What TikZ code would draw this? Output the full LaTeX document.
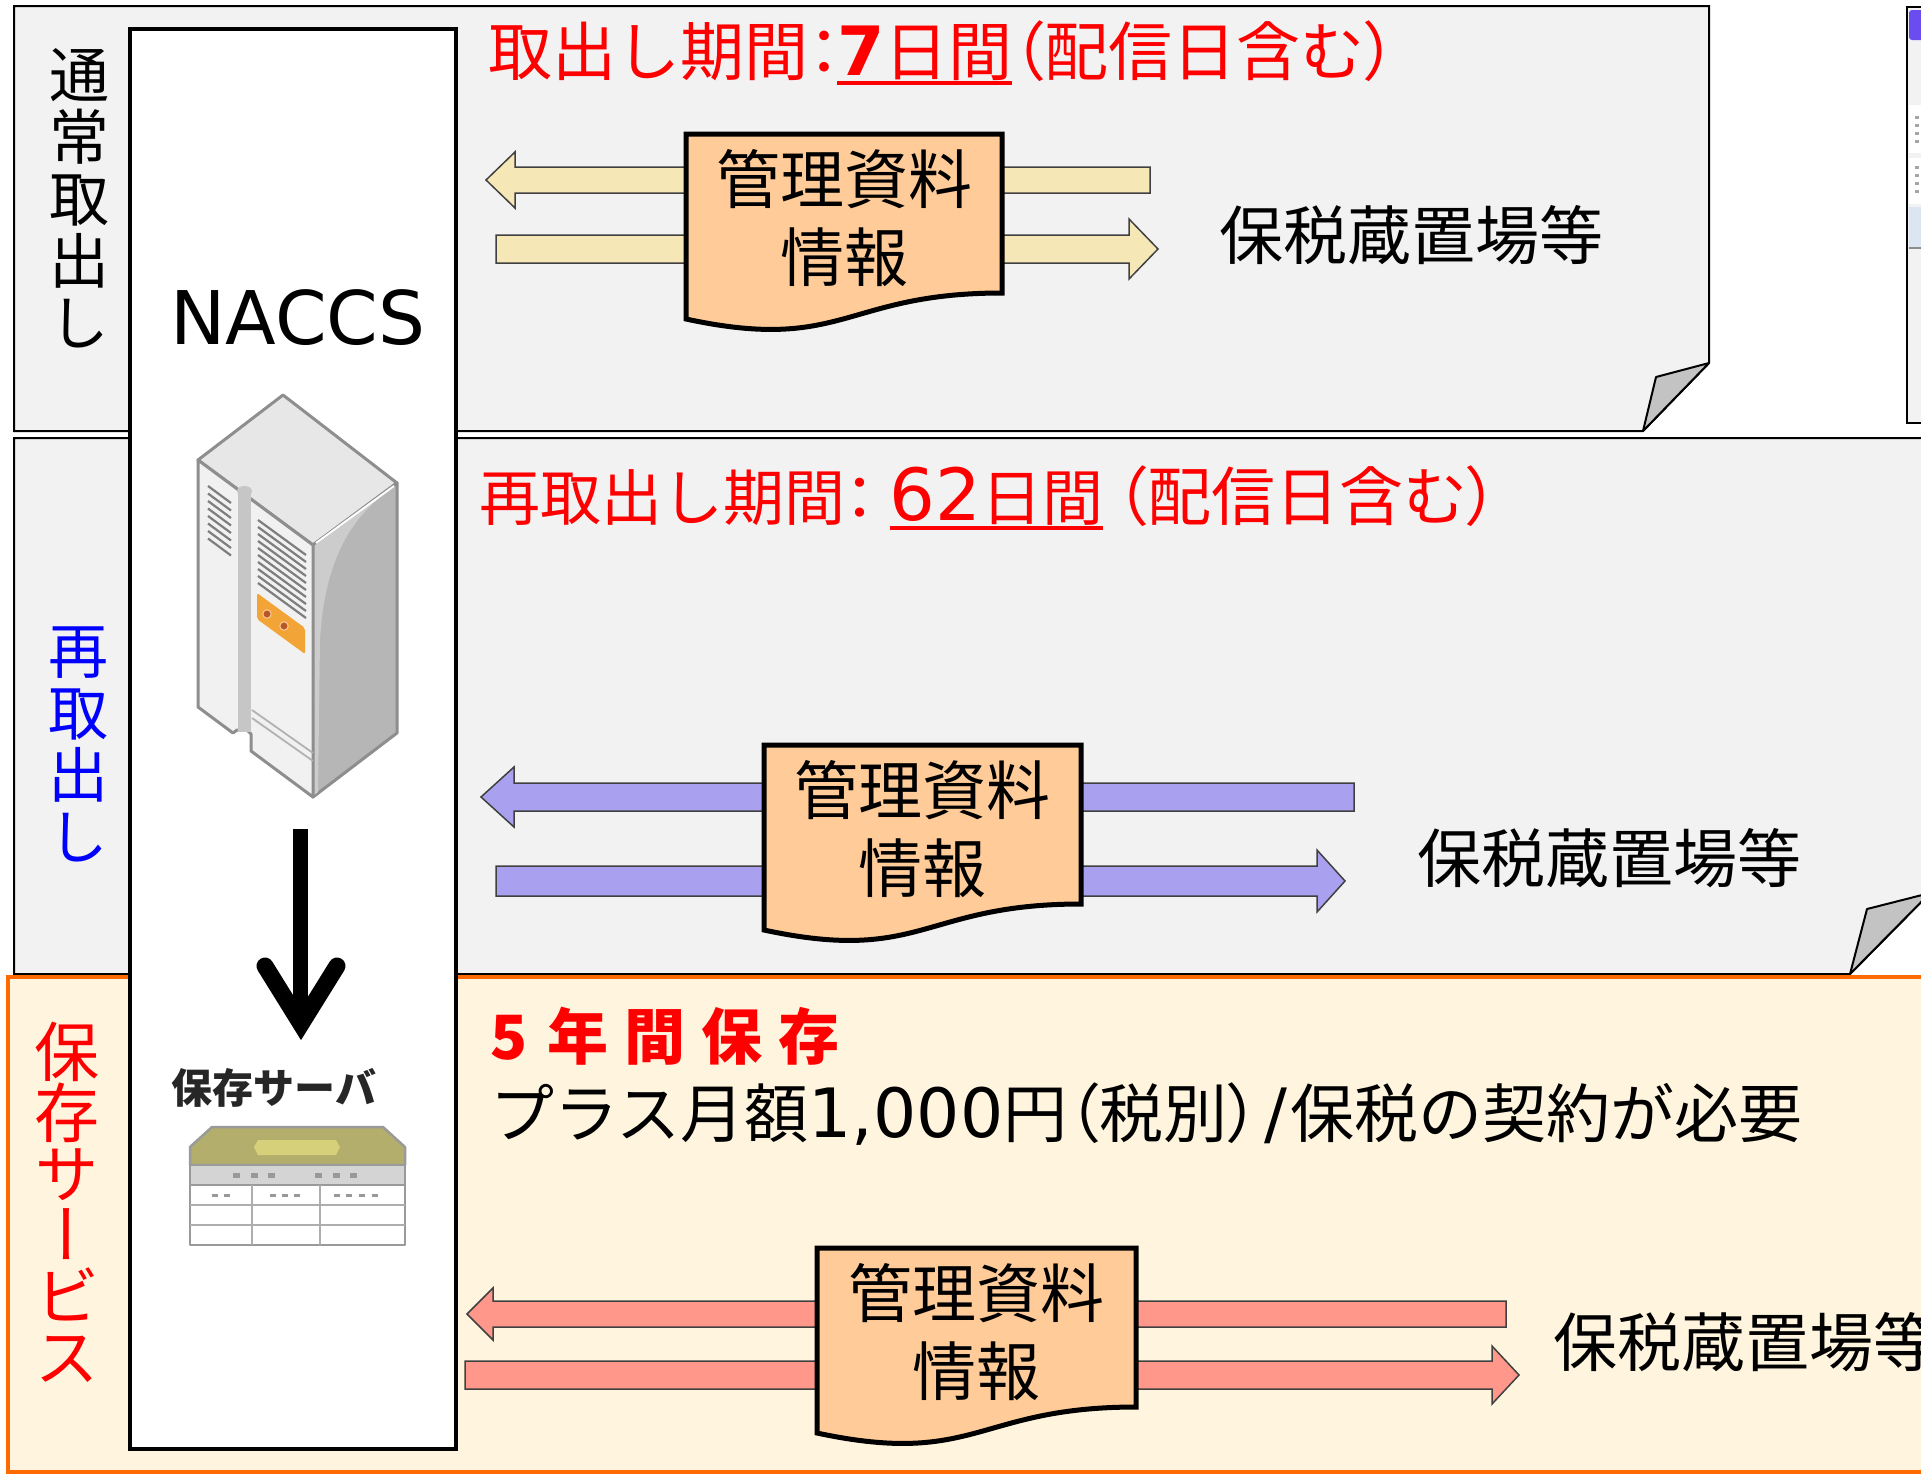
\documentclass[tikz,border=0pt]{standalone}
\usepackage{fontspec}
\usepackage{graphicx}
\setmainfont{Noto Sans CJK JP}
\newfontfamily\vjp[RawFeature=+vert]{Noto Sans CJK JP}
\newfontfamily\jppalt[RawFeature=+palt]{Noto Sans CJK JP}
\newfontfamily\latinf{DejaVu Sans}
\usetikzlibrary{calc}

\definecolor{panelgray}{HTML}{F2F2F2}
\definecolor{flapgray}{HTML}{C3C3C3}
\definecolor{creamfill}{HTML}{FFF5DF}
\definecolor{orangeline}{HTML}{FF6A00}
\definecolor{peach}{HTML}{FFCC99}
\definecolor{yellowbar}{HTML}{F6E8B6}
\definecolor{violetbar}{HTML}{A9A1EF}
\definecolor{salmonbar}{HTML}{FF978B}
\definecolor{towerline}{HTML}{8E8E8E}
\definecolor{towertop}{HTML}{E7E7E7}
\definecolor{towerfront}{HTML}{F1F1F1}
\definecolor{towerside}{HTML}{B6B6B6}
\definecolor{rodgray}{HTML}{C6C6C6}
\definecolor{ventgray}{HTML}{7E7E7E}
\definecolor{panelorange}{HTML}{F2A536}
\definecolor{dotbrown}{HTML}{B8582A}
\definecolor{devline}{HTML}{9A9A9A}
\definecolor{devolive}{HTML}{B3AE6C}
\definecolor{devpill}{HTML}{D6D07A}
\definecolor{devband}{HTML}{D4D4D4}
\definecolor{iconviolet}{HTML}{6A4CF0}
\definecolor{bandblue}{HTML}{DCE6F2}

\newsavebox\ulsave
\newcommand\ulbox[1]{\sbox\ulsave{#1}\rlap{\rule[-10pt]{\wd\ulsave}{4pt}}\usebox\ulsave}
\newcommand\pp[1]{{\jppalt #1}}

\tikzset{
  panelline/.style={draw=black, line width=2pt},
  barline/.style={draw=black!75, line width=1.5pt, line join=miter},
  docline/.style={draw=black, line width=5pt, fill=peach, line join=miter},
  plain/.style={inner sep=0pt, outer sep=0pt},
  doctext/.style={plain, font=\fontsize{64}{64}\selectfont},
  desttext/.style={plain, anchor=west, font=\fontsize{64}{64}\selectfont},
  vlabel/.style={plain, align=center, font=\vjp\fontsize{60}{62}\selectfont},
  titletext/.style={plain, anchor=west, text=red, font=\fontsize{61}{61}\selectfont},
}

% block arrow pointing left: tip x, head base x, tail x, centre y, shaft half, head half, colour
\newcommand\arrowL[7]{%
  \filldraw[barline, fill=#7] (#1,#4) -- (#2,#4-#6) -- (#2,#4-#5) -- (#3,#4-#5)
    -- (#3,#4+#5) -- (#2,#4+#5) -- (#2,#4+#6) -- cycle;}
% block arrow pointing right: tail x, head base x, tip x, centre y, shaft half, head half, colour
\newcommand\arrowR[7]{%
  \filldraw[barline, fill=#7] (#1,#4-#5) -- (#2,#4-#5) -- (#2,#4-#6) -- (#3,#4)
    -- (#2,#4+#6) -- (#2,#4+#5) -- (#1,#4+#5) -- cycle;}
% document shape with wavy lower edge: name, left, top, right
\newcommand\docbox[4]{%
  \filldraw[docline] (#2,#3) -- (#4,#3) -- (#4,#3+159)
    .. controls ({(#2+#4)/2},#3+159) and ({(#2+#4)/2},#3+219) .. (#2,#3+185) -- cycle;
  \node[doctext] (#1a) at ({(#2+#4)/2},#3+45) {管理資料};
  \node[doctext] (#1b) at ({(#2+#4)/2},#3+123) {情報};}

\begin{document}
\begin{tikzpicture}[x=1pt,y=-1pt]
\useasboundingbox (0,0) rectangle (1921,1481);
\clip (0,0) rectangle (1921,1481);
\fill[white] (0,0) rectangle (1921,1481);

% --- window edge at the top right ---
\filldraw[draw=black, line width=1.5pt, fill=panelgray] (1907,7) rectangle (1960,423);
\fill[iconviolet, rounded corners=3pt] (1909,10) rectangle (1926,40);
\fill[white] (1909,105) rectangle (1940,153);
\fill[white] (1909,158) rectangle (1940,204);
\foreach \yy in {117,125,133,141,167,175,183,191}
  \fill[black!35] (1915,\yy-1.5) rectangle (1919,\yy+1.5);
\fill[bandblue] (1909,207) rectangle (1940,248);
\draw[black!45, line width=1.2pt] (1909,248) -- (1940,248);

% --- normal retrieval panel ---
\filldraw[panelline, fill=panelgray] (14,6) -- (1709,6) -- (1709,363) -- (1643,431) -- (14,431) -- cycle;
\filldraw[panelline, fill=flapgray, line join=round] (1709,363) -- (1656,377) -- (1643,431) -- cycle;

% --- re-retrieval panel ---
\filldraw[panelline, fill=panelgray] (14,438) -- (1930,438) -- (1930,893) -- (1850,974) -- (14,974) -- cycle;
\filldraw[panelline, fill=flapgray, line join=round] (1930,893) -- (1867,909) -- (1850,974) -- cycle;

% --- storage service panel ---
\filldraw[draw=orangeline, line width=4pt, fill=creamfill] (8,977) rectangle (1950,1472);

% --- side labels ---
\node[vlabel] (lblnormal) at (79,198) {通\\常\\取\\出\\し};
\node[vlabel, text=blue] (lblre) at (78,744) {再\\取\\出\\し};
\node[vlabel, text=red, font=\vjp\fontsize{65}{61}\selectfont] (lblstore) at (67,1202) {保\\存\\サ\\ー\\ビ\\ス};

% --- NACCS column ---
\node[plain, draw=black, line width=4.5pt, fill=white, minimum width=326pt,
      minimum height=1420pt, anchor=north west] (column) at (130,29) {};
\node[plain, font=\latinf\fontsize{74}{74}\selectfont] (naccs) at (298,318) {NACCS};

% tower server
\begin{scope}[line join=round]
  \filldraw[draw=towerline, line width=3pt, fill=towertop] (283,395) -- (397,483) -- (313,545) -- (198,460) -- cycle;
  \filldraw[draw=towerline, line width=3pt, fill=towerside] (313,545) -- (397,483) -- (397,733) -- (313,797) -- cycle;
  \fill[towerside!70!white] (314,546) -- (388,491) .. controls (345,522) and (324,570) .. (320,640) -- (318,792) -- (314,795) -- cycle;
  \filldraw[draw=towerline, line width=3pt, fill=towerfront] (198,460) -- (313,545) -- (313,797) -- (251,751)
    -- (251,734) -- (247,730) -- (237,730) -- (233,733) -- (198,707) -- cycle;
  \draw[white, line width=2pt] (316,543) -- (394,486);
  \fill[rodgray] (238,492) rectangle (251,732);
  \fill[rodgray] (244.5,491) ellipse (7.5pt and 5pt);
  \foreach \i in {0,...,7}
    \draw[ventgray, line width=2.2pt] (208,486+7.5*\i) -- (231,503+7.5*\i);
  \foreach \i in {0,...,9}
    \draw[ventgray, line width=2.2pt] (258,520+7*\i) -- (306,555+7*\i);
  \fill[panelorange, rounded corners=2pt] (257,593) -- (305,628) -- (305,654) -- (257,619) -- cycle;
  \filldraw[fill=dotbrown, draw=orange!40!white, line width=1pt] (267,614) circle (4.2pt);
  \filldraw[fill=dotbrown, draw=orange!40!white, line width=1pt] (284,626) circle (4.2pt);
  \draw[black!30, line width=1.8pt] (252,710) -- (313,753);
  \draw[black!30, line width=1.8pt] (252,718) -- (313,761);
\end{scope}

% transfer arrow
\coordinate (arrtop) at (300,829);
\coordinate (arrjoin) at (301,1024);
\draw[line width=15pt] (arrtop) -- (300,1010);
\draw[line width=17pt, line cap=round, line join=miter] (265,966) -- (arrjoin) -- (337,966);

% storage server
\node[plain, font=\bfseries\fontsize{41}{41}\selectfont, text=black!85] (srvlbl) at (274,1088) {保存サーバ};
\begin{scope}[line join=round]
  \filldraw[draw=devline, line width=2.5pt, fill=devolive] (190,1165) -- (190,1147) -- (212,1127) -- (383,1127) -- (405,1147) -- (405,1165) -- cycle;
  \fill[devpill] (258,1140) -- (336,1140) -- (340,1147) -- (336,1155) -- (258,1155) -- (254,1147) -- cycle;
  \filldraw[draw=devline, line width=2.5pt, fill=devband] (190,1165) rectangle (405,1185);
  \filldraw[draw=devline, line width=2.5pt, fill=white] (190,1185) rectangle (405,1245);
  \draw[devline!80, line width=2pt] (252,1185) -- (252,1245) (320,1185) -- (320,1245)
    (190,1205) -- (405,1205) (190,1225) -- (405,1225);
  \foreach \xx in {236,254,271,318,336,353}
    \fill[black!40] (\xx-3.5,1172.5) rectangle (\xx+3.5,1177.5);
  \foreach \xx in {215,227,273,285,297,337,349,362,375}
    \fill[black!40] (\xx-3,1193.5) rectangle (\xx+3,1196.5);
\end{scope}

% --- panel 1 contents ---
\node[titletext, font=\fontsize{64}{64}\selectfont] (title1) at (488,53)
  {取出し期間\pp{：}\kern-3pt\ulbox{{\latinf\bfseries\fontsize{68}{68}\selectfont 7}日間}\pp{（}配信日含む\pp{）}};
\arrowL{486}{515}{1150}{180}{13}{28}{yellowbar}
\arrowR{496}{1129}{1158}{249}{14}{30}{yellowbar}
\docbox{doc1}{686}{134}{1002}
\node[desttext] (dest1) at (1219,235) {保税蔵置場等};

% --- panel 2 contents ---
\node[titletext] (title2) at (479,498)
  {再取出し期間\pp{：}\hspace{14pt}\ulbox{{\latinf\fontsize{72}{72}\selectfont 62}日間}\hspace{12pt}{\fontsize{64}{64}\selectfont\pp{（}配信日含む\pp{）}}};
\arrowL{481}{514}{1354}{797}{14}{30}{violetbar}
\arrowR{496}{1317}{1345}{881}{15}{31}{violetbar}
\docbox{doc2}{764}{745}{1081}
\node[desttext] (dest2) at (1417,858) {保税蔵置場等};

% --- panel 3 contents ---
\node[plain, anchor=west, text=red, font=\bfseries\fontsize{61}{61}\selectfont] (title3) at (490,1036)
  {5\hspace{20pt}年\hspace{16pt}間\hspace{16pt}保\hspace{16pt}存};
\node[plain, anchor=west, font=\fontsize{64}{64}\selectfont] (fee) at (490,1114)
  {プラス月額{\latinf\fontsize{68}{68}\selectfont 1,000}円\pp{（}税別\pp{）}\hspace{5pt}{\latinf\fontsize{68}{68}\selectfont /}\hspace{3pt}保税の契約が必要};
\arrowL{467}{493}{1506}{1314}{13}{26}{salmonbar}
\arrowR{465}{1492}{1519}{1375}{14}{29}{salmonbar}
\docbox{doc3}{817}{1248}{1136}
\node[desttext] (dest3) at (1553,1342) {保税蔵置場等};
\end{tikzpicture}
\end{document}
